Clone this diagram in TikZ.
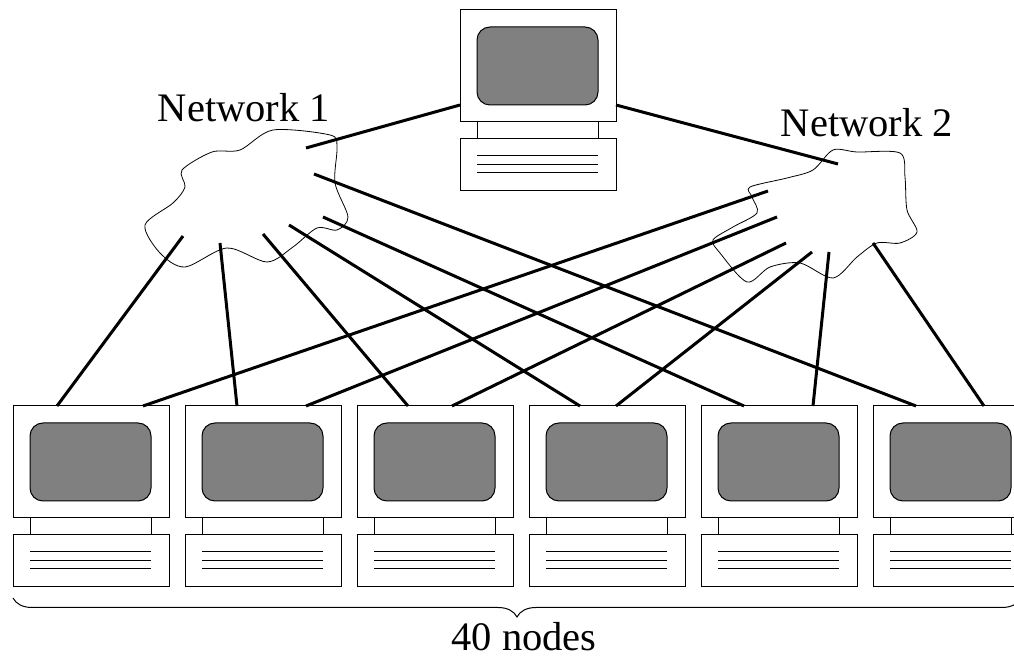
\documentclass[tikz,border=0pt]{standalone}
\usepackage{fontspec}
\setmainfont{Liberation Serif}
\usetikzlibrary{decorations.pathreplacing}

\definecolor{screengray}{gray}{0.5}

\begin{document}
\begin{tikzpicture}
    [
        x=0.5pt, y=-0.5pt,
        outline/.style = {draw, line width=0.5pt},
        link/.style = {draw, line width=1.5pt},
        netcloud/.style = {draw, line width=0.4pt},
        netlabel/.style = {
                anchor=base,
                inner sep=0pt,
                font=\fontsize{20.25}{24}\selectfont
            },
        computer/.pic = {
                \draw [outline] (0,0) rectangle (156,112);
                \draw [outline, fill=screengray, rounded corners=6.5pt] (17,17) rectangle (138,95);
                \draw [outline] (17,112) -- (17,129) (138,112) -- (138,129);
                \draw [outline] (0,129) rectangle (156,181);
                \foreach \d in {146,155,163}
                    \draw [outline] (17,\d) -- (138,\d);
            },
    ]

    \useasboundingbox (0,0) rectangle (1014,657);
    \clip (0,0) rectangle (1014,657);

    \pic (host) at (460,10) {computer};
    \coordinate (host-l) at (460,105);
    \coordinate (host-r) at (616,105);

    \foreach \i/\x/\a/\b in {1/13/57/143, 2/185/237/306, 3/357/408/452,
                             4/529/580/616, 5/701/744/813, 6/873/916/984} {
        \pic (pc\i) at (\x,406) {computer};
        \coordinate (pc\i-a) at (\a,406);
        \coordinate (pc\i-b) at (\b,406);
    }

    \draw [netcloud] plot [smooth cycle] coordinates {
        (182,170) (212,152) (240,150) (273,130) (330,135) (337,147)
        (335,183) (348,217) (337,230) (317,228) (293,247) (267,262)
        (227,248) (185,267) (160,253) (145,225) (173,203) (185,187)
    };
    \draw [netcloud] plot [smooth cycle] coordinates {
        (833,150) (857,152) (900,153) (905,177) (907,210) (917,232)
        (900,243) (877,243) (857,257) (833,278) (800,263) (770,267)
        (747,282) (720,253) (713,240) (733,227) (757,213) (752,197)
        (750,187) (787,178) (813,170)
    };

    \node [netlabel] (net1) at (244,122) {Network 1};
    \node [netlabel] (net2) at (867,137) {Network 2};

    % ends of the links inside each cloud
    \coordinate (net1-0) at (306,148);
    \coordinate (net1-1) at (183,236);
    \coordinate (net1-2) at (220,243);
    \coordinate (net1-3) at (263,234);
    \coordinate (net1-4) at (289,225);
    \coordinate (net1-5) at (323,217);
    \coordinate (net1-6) at (314,174);

    \coordinate (net2-0) at (838,164);
    \coordinate (net2-1) at (768,191);
    \coordinate (net2-2) at (777,217);
    \coordinate (net2-3) at (786,243);
    \coordinate (net2-4) at (812,252);
    \coordinate (net2-5) at (829,252);
    \coordinate (net2-6) at (873,243);

    \draw [link] (host-l) -- (net1-0);
    \draw [link] (host-r) -- (net2-0);
    \foreach \i in {1,...,6} {
        \draw [link] (net1-\i) -- (pc\i-a);
        \draw [link] (net2-\i) -- (pc\i-b);
    }

    \draw [outline, decorate, decoration={brace, mirror, amplitude=9.5pt}]
        (13,598) -- (1021,598);
    \node [netlabel] (count) at (524,651) {40 nodes};

\end{tikzpicture}
\end{document}
